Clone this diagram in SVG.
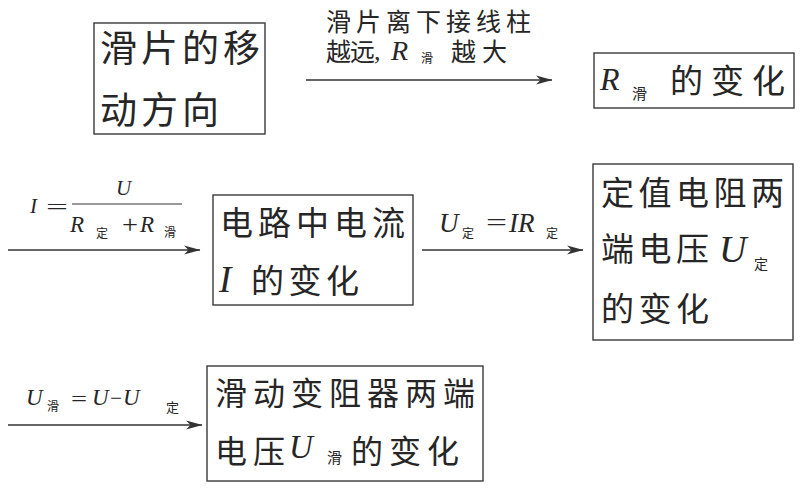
<svg xmlns="http://www.w3.org/2000/svg" width="803" height="488" viewBox="0 0 803 488">
<style>
.bg{fill:#fff}
.box{fill:none;stroke:#3a3a3a;stroke-width:1.4}
.cjk{font-family:"Noto Sans CJK SC","Noto Sans CJK JP",sans-serif;fill:#262626}
.m{font-family:"Liberation Serif",serif;font-style:italic;fill:#262626}
.op{font-family:"Liberation Serif",serif;fill:#262626}
.ln{stroke:#333;stroke-width:1.5;fill:none}
.bar{stroke:#333;stroke-width:1.2}
</style>
<defs>
<marker id="arr" markerUnits="userSpaceOnUse" markerWidth="17" markerHeight="10" refX="16" refY="5" orient="auto" viewBox="0 0 17 10">
<path d="M0,0.5 L16.5,5 L0,9.5 L4.5,5 z" fill="#333"/>
</marker>
</defs>
<rect class="bg" x="0" y="0" width="803" height="488"/>

<g id="n1">
<rect class="box" x="94" y="23" width="171" height="111"/>
<text class="cjk" font-size="37" letter-spacing="4"><tspan x="100" y="62">滑片的移</tspan><tspan x="100" y="124">动方向</tspan></text>
</g>

<g id="n2">
<rect class="box" x="594" y="53" width="200" height="55"/>
<text class="m" x="600" y="90" font-size="32">R</text>
<text class="cjk" x="632" y="99" font-size="15">滑</text>
<text class="cjk" x="670" y="93" font-size="33" letter-spacing="8">的变化</text>
</g>

<g id="n3">
<rect class="box" x="213" y="195" width="200" height="110"/>
<text class="cjk" x="220" y="235" font-size="33" letter-spacing="5">电路中电流</text>
<text class="m" x="219" y="292" font-size="37">I</text>
<text class="cjk" x="251" y="293" font-size="33" letter-spacing="4.5">的变化</text>
</g>

<g id="n4">
<rect class="box" x="593" y="164" width="200" height="176"/>
<text class="cjk" x="601" y="205" font-size="33" letter-spacing="4.5">定值电阻两</text>
<text class="cjk" x="601" y="261" font-size="33" letter-spacing="4.5">端电压</text>
<text class="m" x="719" y="262" font-size="38">U</text>
<text class="cjk" x="754" y="269" font-size="14">定</text>
<text class="cjk" x="601" y="321" font-size="33" letter-spacing="4.5">的变化</text>
</g>

<g id="n5">
<rect class="box" x="207" y="366" width="276" height="115"/>
<text class="cjk" x="215" y="405" font-size="32" letter-spacing="6">滑动变阻器两端</text>
<text class="cjk" x="215" y="463" font-size="32" letter-spacing="6">电压</text>
<text class="m" x="289" y="458" font-size="33">U</text>
<text class="cjk" x="327" y="463" font-size="15">滑</text>
<text class="cjk" x="351" y="463" font-size="32" letter-spacing="6">的变化</text>
</g>

<g id="connectors">
<g id="e1">
<line class="ln" x1="306" y1="80" x2="552" y2="80" marker-end="url(#arr)"/>
<text class="cjk" font-size="25"><tspan x="326" y="31" letter-spacing="5">滑片离下接线柱</tspan><tspan x="326" y="61" letter-spacing="-1">越远</tspan><tspan class="op" x="374" y="60" font-size="26">,</tspan><tspan class="m" x="391" y="60" font-size="28">R</tspan><tspan x="421" y="63" font-size="12">滑</tspan><tspan x="451" y="61" letter-spacing="6">越大</tspan></text>
</g>
<g id="e2">
<line class="ln" x1="8" y1="250" x2="200" y2="250" marker-end="url(#arr)"/>
<text class="m" x="30" y="213" font-size="21">I</text>
<text class="op" x="46" y="214" font-size="22" textLength="22" lengthAdjust="spacingAndGlyphs">=</text>
<text class="m" x="116" y="195" font-size="21">U</text>
<line class="bar" x1="72" y1="204" x2="182" y2="204"/>
<text class="m" x="70" y="232" font-size="23">R</text>
<text class="cjk" x="96" y="238" font-size="12">定</text>
<text class="op" x="122" y="233" font-size="26" textLength="16" lengthAdjust="spacingAndGlyphs">+</text>
<text class="m" x="140" y="232" font-size="23">R</text>
<text class="cjk" x="164" y="237" font-size="12">滑</text>
</g>
<g id="e3">
<line class="ln" x1="422" y1="250" x2="583" y2="250" marker-end="url(#arr)"/>
<text class="m" x="439" y="232" font-size="27">U</text>
<text class="cjk" x="462" y="238" font-size="12">定</text>
<text class="op" x="486" y="231" font-size="26" textLength="21" lengthAdjust="spacingAndGlyphs">=</text>
<text class="m" x="509" y="232" font-size="27">IR</text>
<text class="cjk" x="546" y="238" font-size="12">定</text>
</g>
<g id="e4">
<line class="ln" x1="8" y1="425" x2="202" y2="425" marker-end="url(#arr)"/>
<text class="m" x="26" y="405" font-size="23">U</text>
<text class="cjk" x="47" y="411" font-size="12">滑</text>
<text class="op" x="71" y="406" font-size="21" textLength="16" lengthAdjust="spacingAndGlyphs">=</text>
<text class="m" x="92" y="405" font-size="23">U</text>
<text class="op" x="110" y="405" font-size="21" textLength="12" lengthAdjust="spacingAndGlyphs">−</text>
<text class="m" x="123" y="405" font-size="23">U</text>
<text class="cjk" x="166" y="412" font-size="13">定</text>
</g>
</g>
</svg>
